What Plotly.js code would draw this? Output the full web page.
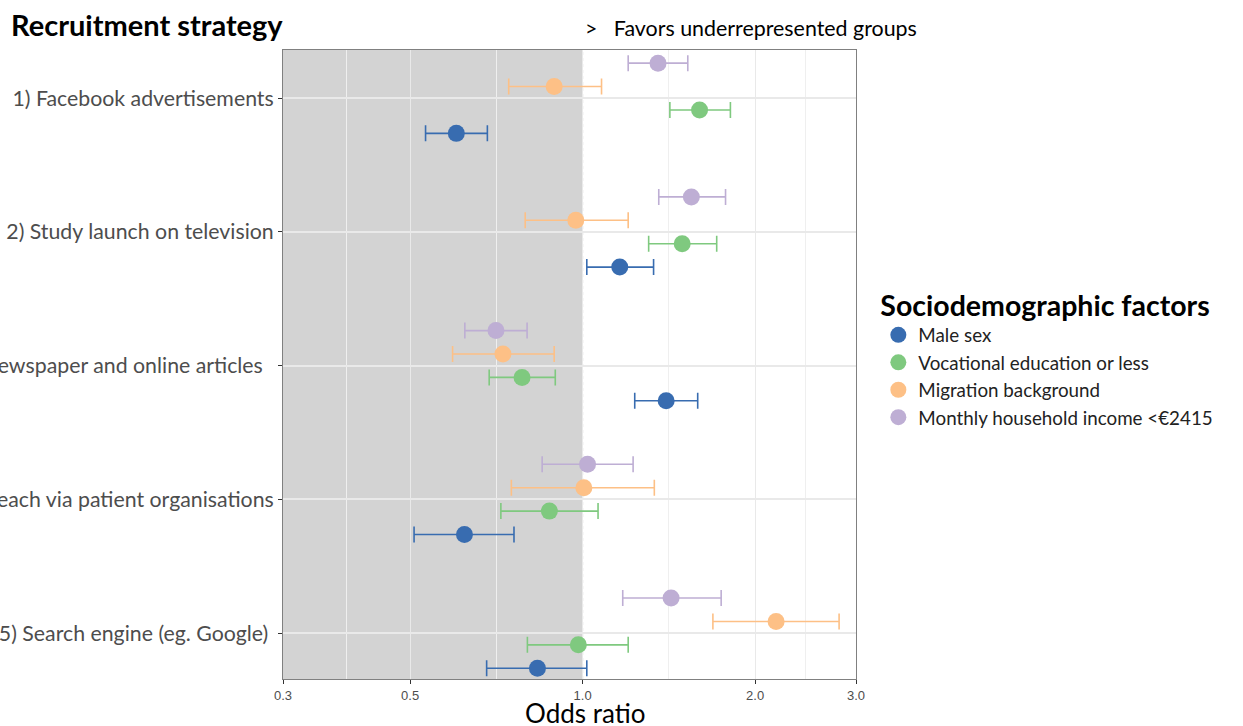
<!DOCTYPE html>
<html>
<head>
<meta charset="utf-8">
<script src="https://cdn.plot.ly/plotly-3.0.1.min.js"></script>
<style>html,body{margin:0;padding:0;background:#fff;}#chart{width:1243px;height:726px;}</style>
</head>
<body>
<div id="chart"></div>
<script>
// ---- data ----
const categories = [
  "1) Facebook advertisements",
  "2) Study launch on television",
  "3) Newspaper and online articles\u00a0\u00a0",
  "4) Outreach via patient organisations",
  "5) Search engine (eg. Google)\u00a0"
];
const factors = ["Male sex", "Vocational education or less", "Migration background", "Monthly household income <€2415"];

const maleOR = [0.602, 1.161, 1.399, 0.622, 0.834];
const maleLo = [0.532, 1.017, 1.233, 0.508, 0.680];
const maleHi = [0.682, 1.330, 1.588, 0.759, 1.017];

const vocOR = [1.600, 1.492, 0.784, 0.875, 0.983];
const vocLo = [1.420, 1.304, 0.687, 0.720, 0.801];
const vocHi = [1.811, 1.714, 0.896, 1.064, 1.201];

const migOR = [0.892, 0.973, 0.726, 1.005, 2.176];
const migLo = [0.743, 0.794, 0.593, 0.751, 1.688];
const migHi = [1.079, 1.201, 0.892, 1.334, 2.803];

const incOR = [1.354, 1.548, 0.706, 1.020, 1.427];
const incLo = [1.201, 1.358, 0.623, 0.850, 1.175];
const incHi = [1.526, 1.776, 0.800, 1.225, 1.745];

const xTicks = [0.3, 0.5, 1.0, 2.0, 3.0];
const xTickText = ["0.3", "0.5", "1.0", "2.0", "3.0"];
const refOR = 1.0; // line of no effect

// ---- styling ----
const colors = ["#386cb0", "#7fc97f", "#fdc086", "#beaed4"];
const series = [
  [maleOR, maleLo, maleHi],
  [vocOR, vocLo, vocHi],
  [migOR, migLo, migHi],
  [incOR, incLo, incHi]
];
const dodgeWidth = 0.7;
const nGroups = series.length;
const FONT = "Lato, 'Noto Sans', sans-serif";

const traces = series.map((s, g) => {
  const [or, lo, hi] = s;
  // reversed y axis: group 0 (male) lowest in each category, last group on top
  const offset = ((nGroups - 1) / 2 - g) * dodgeWidth / nGroups;
  return {
    type: "scatter",
    mode: "markers",
    name: factors[g],
    x: or,
    y: or.map((_, i) => i + 1 + offset),
    marker: {color: colors[g], size: 17, line: {width: 0}},
    error_x: {
      type: "data", symmetric: false,
      array: or.map((v, i) => hi[i] - v),
      arrayminus: or.map((v, i) => v - lo[i]),
      color: colors[g], thickness: 1.6, width: 8
    },
    hovertemplate: "%{x:.2f}<extra>" + factors[g] + "</extra>"
  };
});

// minor gridlines at geometric midpoints between major ticks (ggplot style)
const minorVals = xTicks.slice(1).map((v, i) => Math.sqrt(v * xTicks[i]));
const logMin = Math.log10(xTicks[0]);
const logMax = Math.log10(xTicks[xTicks.length - 1]);
const refFrac = (Math.log10(refOR) - logMin) / (logMax - logMin);

const layout = {
  width: 1243, height: 726,
  margin: {l: 283, r: 387, t: 50, b: 47},
  paper_bgcolor: "#ffffff",
  plot_bgcolor: "#ffffff",
  font: {family: FONT, color: "#4d4d4d"},
  title: {
    text: "<b>Recruitment strategy</b>",
    font: {family: FONT, size: 29, color: "#000000"},
    x: 11 / 1243, xanchor: "left", xref: "container",
    y: 1 - 26 / 726, yanchor: "middle", yref: "container"
  },
  xaxis: {
    type: "log",
    range: [logMin, logMax],
    tickmode: "array", tickvals: xTicks, ticktext: xTickText,
    ticks: "outside", ticklen: 4, tickcolor: "#333333",
    tickfont: {family: "'Liberation Sans', Arial, sans-serif", size: 13, color: "#4d4d4d"},
    showgrid: true, gridcolor: "#e9e9e9", gridwidth: 1.2,
    minor: {tickmode: "array", tickvals: minorVals, showgrid: true, gridcolor: "#efefef", gridwidth: 0.8, ticks: ""},
    showline: true, linecolor: "#808080", linewidth: 1, mirror: true,
    zeroline: false
  },
  yaxis: {
    range: [5.343, 0.639],
    tickmode: "array", tickvals: categories.map((_, i) => i + 1), ticktext: categories,
    ticks: "outside", ticklen: 4, tickcolor: "#333333",
    tickfont: {family: FONT, size: 21.3, color: "#4d4d4d"},
    showgrid: true, gridcolor: "#e9e9e9", gridwidth: 1.5,
    showline: true, linecolor: "#808080", linewidth: 1, mirror: true,
    zeroline: false
  },
  showlegend: true,
  legend: {
    title: {text: "<b>Sociodemographic factors</b>", font: {family: FONT, size: 28.5, color: "#000000"}},
    font: {family: FONT, size: 18.8, color: "#222222"},
    x: 1.039, xanchor: "left", y: 0.511, yanchor: "middle",
    bgcolor: "rgba(0,0,0,0)", tracegroupgap: 0
  },
  shapes: [
    {type: "rect", layer: "below", xref: "paper", yref: "paper",
     x0: 0, x1: refFrac, y0: 0, y1: 1,
     fillcolor: "#d3d3d3", line: {width: 0}},
    {type: "line", layer: "below", xref: "paper", yref: "paper",
     x0: refFrac, x1: refFrac, y0: 0, y1: 1,
     line: {color: "#b8b8b8", width: 1, dash: "dot"}}
  ],
  annotations: [
    {text: ">   Favors underrepresented groups", xref: "x", yref: "paper",
     x: Math.log10(refOR), y: 1 + 22 / 629, xanchor: "left", yanchor: "middle", showarrow: false,
     font: {family: FONT, size: 21.4, color: "#000000"}},
    {text: "Odds ratio", xref: "paper", yref: "paper",
     x: 0.5, xshift: 15, y: 0, yshift: -34, xanchor: "center", yanchor: "middle", showarrow: false,
     font: {family: FONT, size: 26, color: "#000000"}}
  ]
};

Plotly.newPlot("chart", traces, layout, {displayModeBar: false, responsive: false});
</script>
</body>
</html>
